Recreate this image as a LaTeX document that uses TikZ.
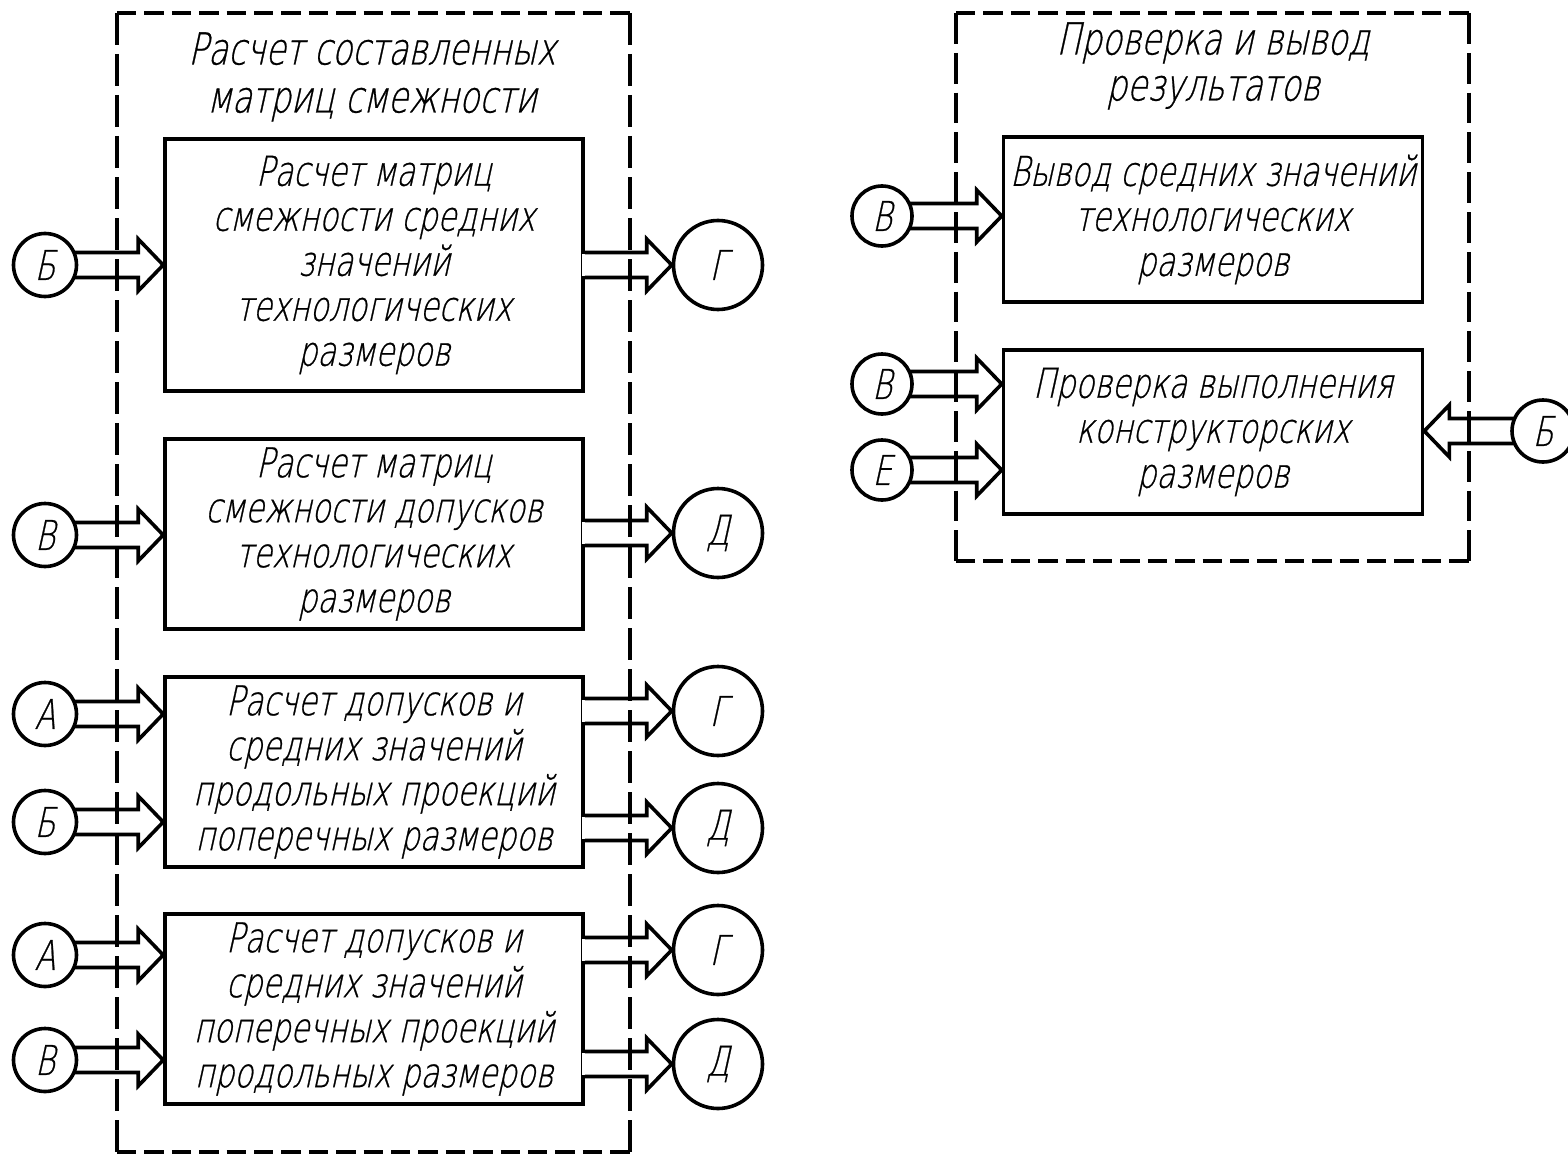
\documentclass[tikz,border=0pt]{standalone}
\usepackage{fontspec}
\newfontfamily\gost[FakeSlant=0.22,FakeStretch=0.745,FakeBold=0.6]{DejaVu Sans ExtraLight}
\usetikzlibrary{calc}
\newcommand\ArrR[3]{\draw[flow] ($(#1)+(#2,-12.5)$) -- ($(#3)+(-25,-12.5)$) -- ($(#3)+(-25,-26)$) -- (#3) -- ($(#3)+(-25,26)$) -- ($(#3)+(-25,12.5)$) -- ($(#1)+(#2,12.5)$);}
\newcommand\ArrL[3]{\draw[flow] ($(#1)+(#2,-12.5)$) -- ($(#3)+(25,-12.5)$) -- ($(#3)+(25,-26)$) -- (#3) -- ($(#3)+(25,26)$) -- ($(#3)+(25,12.5)$) -- ($(#1)+(#2,12.5)$);}
\newcommand\EdgeGap[1]{\fill[white] ($(#1)+(-3,-11)$) rectangle ($(#1)+(3,11)$);}
\begin{document}
\begin{tikzpicture}[x=0.5pt,y=-0.5pt,
  every node/.style={font=\gost\fontsize{20.5}{22.5}\selectfont},
  blk/.style={draw, line width=1.8pt, minimum width=209pt, align=center, inner sep=0pt},
  inc/.style={draw, circle, line width=1.8pt, minimum size=31.5pt, inner sep=0pt},
  outc/.style={draw, circle, line width=1.8pt, minimum size=44.5pt, inner sep=0pt},
  rc/.style={draw, circle, line width=1.8pt, minimum size=30pt, inner sep=0pt},
  ttl/.style={align=center, inner sep=0pt, font=\gost\fontsize{22}{24}\selectfont},
  flow/.style={line width=1.8pt, line join=miter},
  frm/.style={line width=1.8pt},
  hdash/.style={frm, dash pattern=on 9.7pt off 4pt},
  vdashA/.style={frm, dash pattern=on 16pt off 4.5pt},
  vdashB/.style={frm, dash pattern=on 15.4pt off 4.5pt}]
\useasboundingbox (0,0) rectangle (1568,1156);

% dashed frames
\draw[hdash] (117,13) -- (630,13);
\draw[hdash] (117,1152) -- (630,1152);
\draw[vdashA] (117,13) -- (117,1152);
\draw[vdashA] (630,13) -- (630,1152);
\draw[hdash] (956,13) -- (1469,13);
\draw[hdash] (956,561) -- (1469,561);
\draw[vdashB] (956,13) -- (956,561);
\draw[vdashB] (1469,13) -- (1469,561);

% titles
\node[ttl] (t1) at (372,77) {Расчет составленных\\матриц смежности};
\node[ttl, font=\gost\fontsize{22}{23}\selectfont] (t2) at (1213,66) {Проверка и вывод\\результатов};

% blocks
\node[blk, minimum height=126pt] (b1) at (374,265) {Расчет матриц\\смежности средних\\значений\\технологических\\размеров};
\node[blk, minimum height=95pt] (b2) at (374,534) {Расчет матриц\\смежности допусков\\технологических\\размеров};
\node[blk, minimum height=95pt] (b3) at (374,772) {Расчет допусков и\\средних значений\\продольных проекций\\поперечных размеров};
\node[blk, minimum height=95pt] (b4) at (374,1009) {Расчет допусков и\\средних значений\\поперечных проекций\\продольных размеров};
\node[blk, minimum width=209.5pt, minimum height=82.5pt] (b5) at (1213,219.5) {Вывод средних значений\\технологических\\размеров};
\node[blk, minimum width=209.5pt, minimum height=82pt] (b6) at (1213,432) {Проверка выполнения\\конструкторских\\размеров};

% input circles
\node[inc] (ib1) at (45,265) {Б};
\node[inc] (iv2) at (45,535) {В};
\node[inc] (ia3) at (45,714) {А};
\node[inc] (ib3) at (45,822) {Б};
\node[inc] (ia4) at (45,955) {А};
\node[inc] (iv4) at (45,1060) {В};
% output circles
\node[outc] (og1) at (718,265) {Г};
\node[outc] (od2) at (718,533) {Д};
\node[outc] (og3) at (718,711) {Г};
\node[outc] (od3) at (718,828) {Д};
\node[outc] (og4) at (718,950) {Г};
\node[outc] (od4) at (718,1064) {Д};
% right panel circles
\node[rc] (rv1) at (882,216) {В};
\node[rc] (rv2) at (882,384) {В};
\node[rc] (re2) at (882,470) {Е};
\node[rc, minimum size=31pt] (rb2) at (1543,431) {Б};

% tip / start coordinates
\coordinate (ti1) at (ib1.center -| b1.west);
\coordinate (ti2) at (iv2.center -| b2.west);
\coordinate (ti3a) at (ia3.center -| b3.west);
\coordinate (ti3b) at (ib3.center -| b3.west);
\coordinate (ti4a) at (ia4.center -| b4.west);
\coordinate (ti4b) at (iv4.center -| b4.west);
\coordinate (tr1) at (rv1.center -| b5.west);
\coordinate (tr2) at (rv2.center -| b6.west);
\coordinate (tr3) at (re2.center -| b6.west);
\coordinate (tr4) at (rb2.center -| b6.east);

\coordinate (so1) at (og1.center -| b1.east);
\coordinate (so2) at (od2.center -| b2.east);
\coordinate (so3a) at (og3.center -| b3.east);
\coordinate (so3b) at (od3.center -| b3.east);
\coordinate (so4a) at (og4.center -| b4.east);
\coordinate (so4b) at (od4.center -| b4.east);

% input arrows
\ArrR{ib1.center}{28.5}{ti1}
\ArrR{iv2.center}{28.5}{ti2}
\ArrR{ia3.center}{28.5}{ti3a}
\ArrR{ib3.center}{28.5}{ti3b}
\ArrR{ia4.center}{28.5}{ti4a}
\ArrR{iv4.center}{28.5}{ti4b}
\ArrR{rv1.center}{27}{tr1}
\ArrR{rv2.center}{27}{tr2}
\ArrR{re2.center}{27}{tr3}
\ArrL{rb2.center}{-27.5}{tr4}

% output arrows
\EdgeGap{so1}\EdgeGap{so2}\EdgeGap{so3a}\EdgeGap{so3b}\EdgeGap{so4a}\EdgeGap{so4b}
\ArrR{so1}{0}{og1.west}
\ArrR{so2}{0}{od2.west}
\ArrR{so3a}{0}{og3.west}
\ArrR{so3b}{0}{od3.west}
\ArrR{so4a}{0}{og4.west}
\ArrR{so4b}{0}{od4.west}
\end{tikzpicture}
\end{document}
